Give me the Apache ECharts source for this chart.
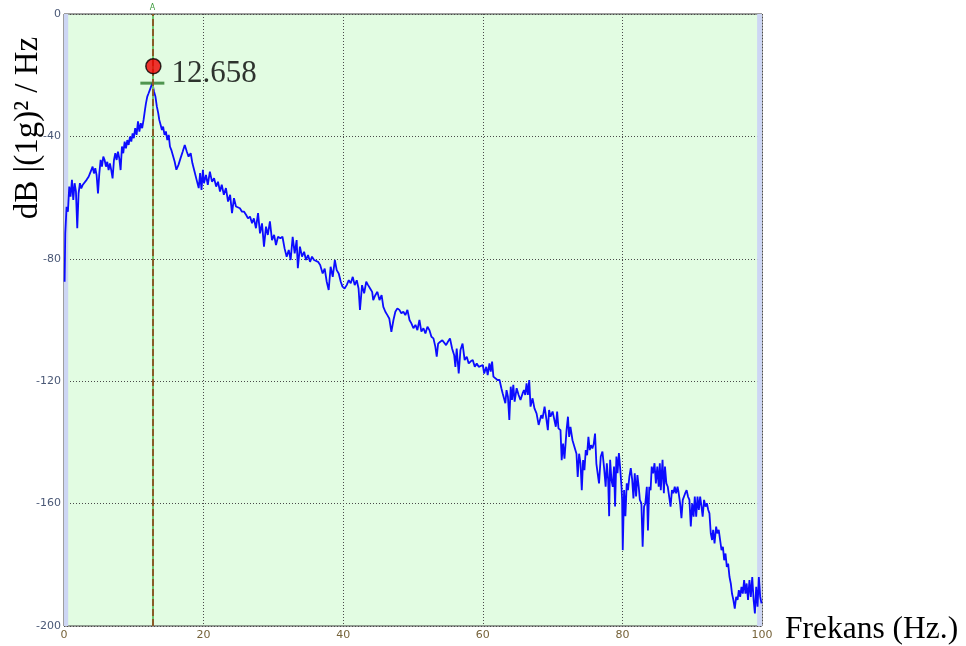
<!DOCTYPE html>
<html>
<head>
<meta charset="utf-8">
<script src="https://cdn.jsdelivr.net/npm/echarts@6/dist/echarts.min.js"></script>
<style>
  html, body { margin: 0; padding: 0; background: #ffffff; }
  #chart { width: 966px; height: 646px; }
</style>
</head>
<body>
<div id="chart"></div>
<script>
// Power spectral density of the acceleration signal, dB re (1g)^2/Hz
const freqHz = [
  0.09, 0.18, 0.37, 0.56, 0.75, 0.94, 1.14, 1.33, 1.52, 1.71, 1.9, 2.09, 2.28, 2.47, 2.67, 2.95,
  3.24, 3.53, 3.72, 3.91, 4.1, 4.29, 4.48, 4.67, 4.87, 5.06, 5.25, 5.44, 5.63, 5.82, 6.01, 6.2,
  6.39, 6.58, 6.77, 6.96, 7.16, 7.35, 7.54, 7.73, 7.92, 8.11, 8.3, 8.49, 8.69, 8.88, 9.07, 9.26,
  9.45, 9.64, 9.83, 10.0, 10.2, 10.4, 10.6, 10.8, 11.0, 11.2, 11.4, 11.6, 11.74, 11.93, 12.12, 12.3,
  12.5, 12.658, 12.9, 13.1, 13.3, 13.5, 13.65, 13.84, 14.03, 14.2, 14.4, 14.6, 14.8, 15.0, 15.18, 15.37,
  15.5, 15.85, 16.1, 16.4, 16.7, 17.0, 17.3, 17.6, 17.85, 18.15, 18.4, 18.7, 19.0, 19.3, 19.5, 19.7,
  19.9, 20.05, 20.34, 20.6, 20.9, 21.2, 21.5, 21.8, 22.06, 22.35, 22.6, 22.9, 23.2, 23.5, 23.8, 24.07,
  24.35, 24.64, 24.9, 25.2, 25.5, 25.8, 26.1, 26.36, 26.65, 26.94, 27.2, 27.5, 27.8, 28.08, 28.37, 28.65,
  28.94, 29.2, 29.5, 29.8, 30.1, 30.37, 30.66, 31.0, 31.3, 31.6, 31.9, 32.2, 32.47, 32.76, 33.05, 33.33,
  33.5, 33.8, 34.1, 34.4, 34.67, 34.96, 35.25, 35.53, 35.82, 36.1, 36.4, 36.7,
  37.06, 37.35, 37.64, 37.92, 38.2, 38.5, 38.8, 39.07, 39.36, 39.65, 39.9, 40.2, 40.5, 40.8, 41.08, 41.37,
  41.65, 41.94, 42.2, 42.4, 42.7, 43.0, 43.3, 43.57, 43.86, 44.15, 44.3, 44.6, 44.9, 45.2, 45.5, 45.75,
  46.04, 46.33, 46.6, 46.9, 47.2, 47.47, 47.76, 48.05, 48.33, 48.62, 48.9, 49.2, 49.5, 49.77, 50.06, 50.35,
  50.63, 50.92, 51.2, 51.5, 51.78, 52.07, 52.35, 52.64, 52.93, 53.2, 53.4, 53.6, 53.9, 54.2, 54.45, 54.74,
  55.0, 55.3, 55.6, 55.9, 56.07, 56.26, 56.55, 56.8, 57.1, 57.4, 57.7, 57.98,
  58.27, 58.56, 58.85, 59.13, 59.42, 59.7, 60.0, 60.2, 60.5, 60.7, 60.95, 61.14, 61.33, 61.52, 61.8, 62.1,
  62.4, 62.66, 62.85, 63.04, 63.23, 63.4, 63.6, 63.8, 64.0, 64.18, 64.37, 64.56, 64.85, 65.13, 65.4, 65.7,
  65.9, 66.08, 66.27, 66.46, 66.65, 66.84, 67.13, 67.4, 67.7, 68.0, 68.2, 68.37, 68.56, 68.85, 69.13, 69.32,
  69.5, 69.7, 70.0, 70.27, 70.46, 70.65, 70.84, 71.13, 71.3, 71.5, 71.7, 72.0, 72.2, 72.37, 72.56, 72.85,
  73.13, 73.42, 73.6, 73.8, 74.0, 74.18, 74.37, 74.56, 74.75, 74.94, 75.13, 75.32, 75.5, 75.7, 75.9, 76.08,
  76.27, 76.46, 76.65,
  76.9, 77.14, 77.38, 77.6, 77.77, 77.96, 78.1, 78.24, 78.43, 78.62, 78.8, 78.95, 79.14, 79.3, 79.5, 79.7,
  79.87, 79.96, 80.05, 80.24, 80.43, 80.62, 80.8, 81.0, 81.2, 81.4, 81.58, 81.77, 81.96, 82.15, 82.34, 82.5,
  82.72, 82.9, 83.1, 83.29, 83.5, 83.66, 83.85, 84.04, 84.2, 84.4, 84.6, 84.8, 85.0, 85.2, 85.36, 85.5,
  85.75, 85.94, 86.1, 86.3, 86.5, 86.7, 86.9, 87.1, 87.3, 87.5, 87.7, 87.9, 88.0, 88.27, 88.46, 88.65,
  88.84, 89.0, 89.2, 89.4, 89.6, 89.8, 90.0, 90.2, 90.37, 90.57, 90.76, 90.95, 91.14, 91.33, 91.5, 91.7,
  91.9, 92.1, 92.3, 92.47, 92.66, 92.85, 93.0, 93.2, 93.43, 93.6, 93.8, 94.0, 94.2, 94.4, 94.58, 94.77,
  94.96, 95.15, 95.34, 95.53, 95.7, 95.9, 96.1, 96.3, 96.5, 96.68, 96.87, 97.06, 97.25, 97.44, 97.63, 97.8,
  98.0, 98.2, 98.4, 98.6, 98.8, 98.98, 99.17, 99.36, 99.55, 99.74, 99.93
];

const psdDb = [
  -87.5, -71.7, -63, -64.6, -56.4, -59.7, -54.2, -60.8, -55.3, -58, -70, -58.6, -55.3, -57, -55.9, -55.3,
  -54.2, -53.2, -52.1, -51, -49.9, -52.1, -50.4, -52.6, -58.6, -52.1, -47.7, -49.9, -46.6, -47.7, -49.9, -48.3,
  -51, -48.8, -51, -53.7, -47.7, -45.5, -47.7, -45, -47.2, -51, -43.3, -45.5, -41.7, -43.9, -41.2, -42.8,
  -40.1, -41.7, -39, -40.6, -37.3, -39.5, -35.1, -38.4, -35.7, -37.3, -34.6, -31.3, -29.2, -27, -25.9, -24.8,
  -24.2, -22.6, -25.4, -27, -30.2, -32.4, -34.6, -36.2, -37.9, -36.8, -39.5, -38.4, -41.2, -39.5, -43.3, -44.4,
  -44.4, -48.2, -50.9, -49.3, -47.1, -45, -42.8, -45, -46.6, -45.5, -48.8, -51.5, -54.2, -56.9, -52, -57.5,
  -50.9, -55.3, -52.6, -55.8, -51.5, -54.8, -53.7, -56.4, -54.8, -58, -55.8, -59.1, -56.9, -61.3, -59.1, -65.1,
  -60.2, -62.9, -63.5, -63.5, -64.6, -64.6, -65.7, -66.8, -66.2, -68.4, -66.8, -70, -65.1, -71.7, -68.4, -76,
  -69.5, -72.2, -67.8, -73.9, -72.2, -75.5, -72.8, -73.3, -72.8, -76.6, -79.3, -77.1, -80.4, -72.8, -78.2, -73.9,
  -83.1, -76, -79.3, -77.7, -80.4, -78.8, -81, -79.3, -80.4, -79.9, -81, -82,
  -84.8, -83.2, -87.5, -90.2, -82.6, -85.9, -80.4, -83.7, -84.8, -87.5, -89.1, -89.7, -88.6, -87, -88, -85.9,
  -88.6, -87, -89.7, -96.7, -88.6, -91.3, -87.5, -88.6, -89.7, -90.8, -93.5, -91.9, -90.8, -93.5, -91.9, -95.7,
  -97.3, -98.4, -99.5, -103.9, -100, -97.3, -96.2, -96.7, -97.8, -97.3, -98.4, -96.7, -100, -101.1, -102.7, -101.6,
  -103.3, -100, -103.8, -102.7, -104.4, -102.2, -103.3, -105.5, -106, -108.7, -112, -107.7, -107.1, -106.6, -106, -108.2,
  -107.1, -106, -109.3, -111.5, -115.3, -109.3, -117.5, -109.8, -107.7, -113.1, -112, -114.2,
  -113.5, -113.1, -115.3, -114.2, -115.3, -115.8, -114.7, -117.5, -115.3, -118, -114.2, -116.9, -113.6, -118.5, -118.5, -119.6,
  -119.6, -122.3, -124, -123.4, -127.2, -122.9, -125.1, -132.7, -121.8, -126.1, -121.2, -126.7, -122.3, -124.5, -126.1, -124,
  -122.9, -124.5, -120.7, -124.5, -119.6, -128.3, -125.6, -128.9, -130.5, -134.3, -133.8, -131.1, -132.2, -128.3, -132.7, -136,
  -129.4, -131.6, -129.9, -130.5, -134.9, -129.9, -135.4, -136, -145.8, -140.4, -145.3, -136, -131.6, -138.2, -134.9, -139.3,
  -139.8, -143.7, -151.3, -143.7, -146.9, -155.6, -145.8, -149.1, -142.5, -144.2, -138.2, -142.5, -140.9, -142, -140.4, -137.1,
  -146.9, -150.2, -153.4,
  -144.6, -143, -148.4, -154.5, -146.8, -152.2, -164.1, -145.7, -152.2, -154.5, -147.9, -160.9, -144.6, -150.1, -143.5, -149,
  -154.5, -158.8, -175.2, -155.6, -164.1, -153.4, -155.6, -151.2, -148.4, -152.2, -158.3, -150.1, -157.7, -150.7, -154.5, -158.8,
  -159.9, -174.1, -161, -159.9, -154.5, -168.8, -154.5, -155.6, -147.9, -150.1, -146.8, -153.4, -147.9, -154.5, -146.8, -155.6,
  -145.7, -156.6, -147.9, -153.4, -154.5, -157.7, -161, -155.6, -156.6, -154.5, -156.6, -154.5, -155.6, -159.9, -164.8, -158.8,
  -159.3, -156.6, -155.6, -157.7, -158.8, -167.5, -159.9, -164.3, -157.7, -164.3, -157.7, -162.1, -157.7, -161, -164.3, -158.8,
  -161, -159.9, -162.1, -163.2, -169.7, -171.9, -168.6, -173, -167.5, -169.7, -168.6, -171.9, -175.2, -174.1, -178.5, -176.3,
  -180.7, -179.6, -183.9, -186.1, -189.4, -191.5, -194.3, -190.5, -191.5, -188.3, -190.5, -187.2, -189.4, -185, -189.4, -186.1,
  -191.5, -185, -190.5, -184, -191.5, -195.9, -187.2, -193.7, -184, -190.5, -192.6
];

// Cursor "A" sits on the spectral peak
const peakHz = 12.658;
const peakDb = -22.6;

const xTicks = [0, 20, 40, 60, 80, 100];
const yTicks = [0, -40, -80, -120, -160, -200];

const xTitle = 'Frekans (Hz.)';
const yTitle = 'dB |(1g)\u00B2 / Hz';

const spectrum = freqHz.map((f, i) => [f, psdDb[i]]);

const chart = echarts.init(document.getElementById('chart'), null, { renderer: 'canvas' });

const gridLine = { show: true, lineStyle: { color: '#4a4a4a', width: 1, type: [1, 2] } };

chart.setOption({
  animation: false,
  backgroundColor: '#ffffff',
  grid: {
    left: 64, right: 204, top: 14, bottom: 20,
    show: true,
    backgroundColor: '#e2fce2',
    borderColor: '#3c3c3c',
    borderWidth: 1
  },
  xAxis: {
    type: 'value',
    min: xTicks[0], max: xTicks[xTicks.length - 1], interval: 20,
    axisLine: { show: false },
    axisTick: { show: false },
    splitLine: gridLine,
    axisLabel: {
      margin: 4, fontSize: 11, fontFamily: 'DejaVu Sans', color: '#76633a',
      formatter: v => xTicks.includes(v) ? String(v) : ''
    }
  },
  yAxis: {
    type: 'value',
    min: yTicks[yTicks.length - 1], max: yTicks[0], interval: 40,
    axisLine: { show: false },
    axisTick: { show: false },
    splitLine: gridLine,
    axisLabel: {
      margin: 3, fontSize: 11, fontFamily: 'DejaVu Sans', color: '#4a5876',
      formatter: v => yTicks.includes(v) ? String(v) : ''
    }
  },
  series: [
    {
      // side bands at both ends of the frequency range
      type: 'line',
      data: [],
      silent: true,
      markArea: {
        silent: true,
        itemStyle: { color: '#cdd6f4' },
        data: [
          [{ xAxis: 0 }, { xAxis: 0.6 }],
          [{ xAxis: 99.3 }, { xAxis: 100 }]
        ]
      }
    },
    {
      // cursor line: green with brown dashes
      type: 'line',
      data: [],
      silent: true,
      markLine: {
        silent: true,
        symbol: 'none',
        animation: false,
        data: [
          {
            xAxis: peakHz,
            lineStyle: { color: '#6cc46c', width: 2, type: 'solid' },
            label: { show: true, position: 'end', distance: 2, formatter: 'A', color: '#3c9a3c', fontSize: 8, fontFamily: 'DejaVu Sans' }
          },
          {
            xAxis: peakHz,
            lineStyle: { color: '#8a5a28', width: 2, type: [7, 3] },
            label: { show: false }
          }
        ]
      }
    },
    {
      name: 'PSD',
      type: 'line',
      data: spectrum,
      showSymbol: false,
      symbol: 'none',
      lineStyle: { color: '#0c0cff', width: 1.8 },
      z: 3
    },
    {
      // peak level tick
      type: 'scatter',
      data: [[peakHz, peakDb]],
      symbol: 'rect',
      symbolSize: [24, 3],
      itemStyle: { color: '#2a7a2a' },
      z: 4
    },
    {
      // cursor marker with frequency readout
      type: 'scatter',
      data: [[peakHz, peakDb]],
      symbol: 'circle',
      symbolSize: 15,
      symbolOffset: [1, -17],
      itemStyle: { color: '#f00000', borderColor: '#000000', borderWidth: 1.5 },
      label: {
        show: true,
        position: 'right',
        distance: 10,
        offset: [0, 8],
        formatter: p => p.value[0].toFixed(3),
        fontFamily: 'Liberation Serif',
        fontSize: 31,
        color: '#000000'
      },
      z: 5
    }
  ],
  graphic: [
    {
      type: 'text',
      x: 28, y: 128,
      rotation: Math.PI / 2,
      style: {
        text: yTitle,
        font: '33px "Liberation Serif"',
        fill: '#000000',
        textAlign: 'center',
        textVerticalAlign: 'middle'
      }
    },
    {
      type: 'text',
      x: 785, y: 630,
      style: {
        text: xTitle,
        font: '31.5px "Liberation Serif"',
        fill: '#000000',
        textAlign: 'left',
        textVerticalAlign: 'middle'
      }
    }
  ]
});
</script>
</body>
</html>
